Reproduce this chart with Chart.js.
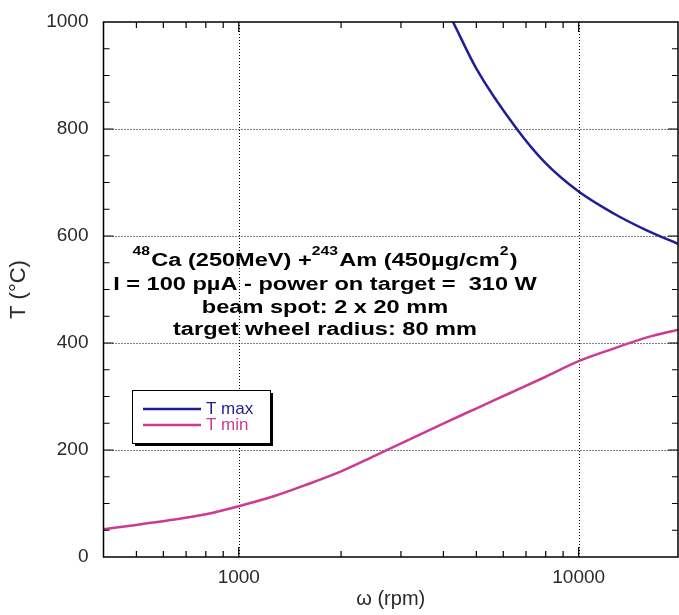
<!DOCTYPE html>
<html>
<head>
<meta charset="utf-8">
<script src="https://cdn.jsdelivr.net/npm/chart.js@4.4.1/dist/chart.umd.min.js"></script>
<style>
  html, body { margin: 0; padding: 0; background: #ffffff; }
  #wrap { width: 679px; height: 615px; }
</style>
</head>
<body>
<div id="wrap"><canvas id="c" width="679" height="615"></canvas></div>
<script>
// ---- data ----
const omegaMin = [400, 500, 630, 800, 1000, 1260, 1580, 2000, 2510, 3160, 3980, 5010, 6310, 7940, 10000, 12600, 15800, 20000];
const tMin     = [52, 60, 69, 80, 95, 113, 135, 160, 189, 219, 249, 278, 307, 336, 366, 389, 410, 426];
const omegaMax = [4270, 5010, 6580, 7940, 10000, 12600, 15800, 20000];
const tMax     = [1000, 912, 800, 738, 683, 643, 611, 583];
const xTickValues = [1000, 10000];
const yTickValues = [0, 200, 400, 600, 800, 1000];
const seriesNames = ['T max', 'T min'];
const annotationLines = [
  [['sup', '48'], ['txt', 'Ca (250MeV) +'], ['sup', '243'], ['txt', 'Am (450\u00b5g/cm'], ['sup', '2'], ['txt', ')']],
  [['txt', 'I = 100 p\u00b5A - power on target =  310 W']],
  [['txt', 'beam spot: 2 x 20 mm']],
  [['txt', 'target wheel radius: 80 mm']]
];

const BLUE = '#1e1e96';
const PINK = '#cc3a94';

const toPts = (xs, ys) => xs.map((x, i) => ({ x: x, y: ys[i] }));

const decor = {
  id: 'decor',
  beforeDatasetsDraw(chart) {
    const { ctx, chartArea: a, scales } = chart;
    ctx.save();
    ctx.strokeStyle = '#000';
    ctx.lineWidth = 1;
    ctx.setLineDash([1, 2]);
    yTickValues.forEach(v => {
      if (v <= 0 || v >= 1000) return;
      const y = Math.round(scales.y.getPixelForValue(v)) + 0.5;
      ctx.beginPath(); ctx.moveTo(a.left, y); ctx.lineTo(a.right, y); ctx.stroke();
    });
    xTickValues.forEach(v => {
      const x = Math.round(scales.x.getPixelForValue(v)) + 0.5;
      ctx.beginPath(); ctx.moveTo(x, a.top); ctx.lineTo(x, a.bottom); ctx.stroke();
    });
    ctx.restore();
  },
  afterDatasetsDraw(chart) {
    const { ctx, chartArea: a, scales } = chart;
    ctx.save();
    ctx.strokeStyle = '#000';
    ctx.setLineDash([]);
    // inward ticks
    ctx.lineWidth = 1.2;
    for (let v = 50; v < 1000; v += 50) {
      const y = scales.y.getPixelForValue(v);
      const len = (v % 200 === 0) ? 10 : 6;
      ctx.beginPath();
      ctx.moveTo(a.left, y); ctx.lineTo(a.left + len, y);
      ctx.moveTo(a.right, y); ctx.lineTo(a.right - len, y);
      ctx.stroke();
    }
    const xTicks = [];
    for (let d = 100; d <= 10000; d *= 10) for (let m = 1; m <= 9; m++) xTicks.push(m * d);
    xTicks.forEach(v => {
      if (v <= scales.x.min || v >= scales.x.max) return;
      const x = scales.x.getPixelForValue(v);
      const len = xTickValues.includes(v) ? 10 : 6;
      ctx.beginPath();
      ctx.moveTo(x, a.bottom); ctx.lineTo(x, a.bottom - len);
      ctx.moveTo(x, a.top); ctx.lineTo(x, a.top + len);
      ctx.stroke();
    });
    // frame
    ctx.lineWidth = 1.5;
    ctx.strokeRect(a.left, a.top, a.right - a.left, a.bottom - a.top);

    // annotation text
    const sx = 1.31;
    const cx = 325;
    const baselines = [266, 290, 312.5, 334.5];
    const bigFont = 'bold 18px "Liberation Sans", Arial, sans-serif';
    const supFont = 'bold 12px "Liberation Sans", Arial, sans-serif';
    ctx.fillStyle = '#000';
    ctx.textBaseline = 'alphabetic';
    ctx.textAlign = 'left';
    annotationLines.forEach((runs, li) => {
      let w = 0;
      runs.forEach(r => { ctx.font = r[0] === 'sup' ? supFont : bigFont; w += ctx.measureText(r[1]).width + (r[0] === 'sup' ? 1 : 0); });
      ctx.save();
      ctx.translate(cx - (w * sx) / 2, baselines[li]);
      ctx.scale(sx, 1);
      let x = 0;
      runs.forEach(r => {
        if (r[0] === 'sup') {
          ctx.font = supFont; ctx.fillText(r[1], x, -11); x += ctx.measureText(r[1]).width + 1;
        } else {
          ctx.font = bigFont; ctx.fillText(r[1], x, 0); x += ctx.measureText(r[1]).width;
        }
      });
      ctx.restore();
    });

    // legend box
    const bx = 132, by = 390, bw = 138, bh = 53;
    ctx.fillStyle = '#000';
    ctx.fillRect(bx + 3, by + 3, bw, bh);
    ctx.fillStyle = '#fff';
    ctx.fillRect(bx, by, bw, bh);
    ctx.lineWidth = 1;
    ctx.strokeStyle = '#000';
    ctx.strokeRect(bx + 0.5, by + 0.5, bw, bh);
    const rows = [[BLUE, seriesNames[0], 409], [PINK, seriesNames[1], 425]];
    ctx.font = '17px "Liberation Sans", Arial, sans-serif';
    ctx.textBaseline = 'middle';
    rows.forEach(r => {
      ctx.strokeStyle = r[0]; ctx.lineWidth = 2.5;
      ctx.beginPath(); ctx.moveTo(143, r[2]); ctx.lineTo(201, r[2]); ctx.stroke();
      ctx.fillStyle = r[0];
      ctx.fillText(r[1], 206, r[2]);
    });
    ctx.restore();
  }
};

new Chart(document.getElementById('c'), {
  type: 'scatter',
  data: {
    datasets: [
      { label: seriesNames[0], data: toPts(omegaMax, tMax), showLine: true, borderColor: BLUE, backgroundColor: BLUE, borderWidth: 2.5, pointRadius: 0, cubicInterpolationMode: 'monotone' },
      { label: seriesNames[1], data: toPts(omegaMin, tMin), showLine: true, borderColor: PINK, backgroundColor: PINK, borderWidth: 2.5, pointRadius: 0, cubicInterpolationMode: 'monotone' }
    ]
  },
  options: {
    responsive: false,
    animation: false,
    devicePixelRatio: 1,
    layout: { padding: { top: 22, right: 1, left: 0, bottom: 0 } },
    plugins: { legend: { display: false }, tooltip: { enabled: false } },
    scales: {
      x: {
        type: 'logarithmic',
        min: 400, max: 19600,
        grid: { display: false, drawTicks: false },
        border: { display: false },
        afterBuildTicks: s => { s.ticks = xTickValues.map(v => ({ value: v, major: true })); },
        afterFit: s => { s.height = 58; s.paddingLeft = 0; s.paddingRight = 0; s.paddingTop = 0; s.paddingBottom = 0; },
        ticks: {
          autoSkip: false, maxRotation: 0, padding: 9,
          color: '#2a2a2a',
          font: { family: '"Liberation Sans", Arial, sans-serif', size: 19 },
          callback: v => String(v)
        },
        title: {
          display: true, text: '\u03c9 (rpm)', color: '#2a2a2a',
          font: { family: '"Liberation Sans", Arial, sans-serif', size: 20 },
          padding: { top: 0, bottom: 4 }
        }
      },
      y: {
        min: 0, max: 1000,
        grid: { display: false, drawTicks: false },
        border: { display: false },
        afterBuildTicks: s => { s.ticks = yTickValues.map(v => ({ value: v })); },
        afterFit: s => { s.width = 103.5; s.paddingTop = 0; s.paddingBottom = 0; s.paddingLeft = 0; s.paddingRight = 0; },
        ticks: {
          padding: 15,
          color: '#2a2a2a',
          font: { family: '"Liberation Sans", Arial, sans-serif', size: 19 },
          callback: v => String(v)
        },
        title: {
          display: true, text: 'T (\u00b0C)', color: '#2a2a2a',
          font: { family: '"Liberation Sans", Arial, sans-serif', size: 22 },
          padding: { top: 6, bottom: 0 }
        }
      }
    }
  },
  plugins: [decor]
});
</script>
</body>
</html>
